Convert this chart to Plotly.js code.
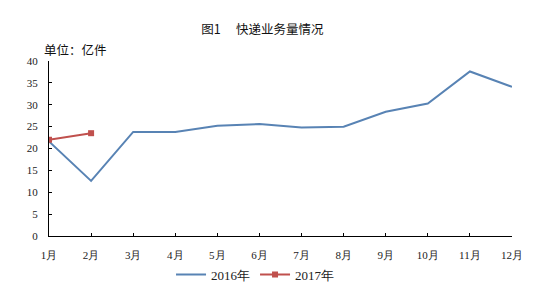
<!DOCTYPE html>
<html>
<head>
<meta charset="utf-8">
<script src="https://cdn.plot.ly/plotly-3.0.1.min.js"></script>
<style>html,body{margin:0;padding:0;background:#fff;}#chart{width:551px;height:299px;}</style>
</head>
<body>
<div id="chart"></div>
<script>
const months = ["1月","2月","3月","4月","5月","6月","7月","8月","9月","10月","11月","12月"];
const values2016 = [21.6, 12.6, 23.8, 23.8, 25.2, 25.6, 24.8, 25.0, 28.4, 30.3, 37.6, 34.1];
const months2017 = ["1月","2月"];
const values2017 = [22.0, 23.5];
const yTicks = [0,5,10,15,20,25,30,35,40];

const serif = "Liberation Serif, Times New Roman, serif";
const cjk = "Noto Sans CJK SC, sans-serif";

const data = [
  {x: months, y: values2016, type: "scatter", mode: "lines", name: "2016年",
   line: {color: "#5883b4", width: 2}},
  {x: months2017, y: values2017, type: "scatter", mode: "lines+markers", name: "2017年",
   line: {color: "#c0504d", width: 2}, marker: {symbol: "square", size: 6, color: "#c0504d"}}
];

const layout = {
  width: 551, height: 299,
  margin: {l: 49, r: 39, t: 61, b: 63, autoexpand: false},
  paper_bgcolor: "#fff", plot_bgcolor: "#fff",
  showlegend: true,
  legend: {orientation: "h", x: 0.445, xanchor: "center", y: -0.135, yanchor: "top",
    font: {family: serif, size: 13, color: "#222"}, itemwidth: 30, tracegroupgap: 0},
  title: {text: "图1　 快递业务量情况", font: {family: cjk, size: 12.5, color: "#111"},
    x: 254/551, xanchor: "center", xref: "paper", y: 0.9, yanchor: "middle", yref: "container"},
  xaxis: {type: "category", categoryorder: "array", categoryarray: months,
    range: [0, 11], autorange: false, showgrid: false, zeroline: false,
    showline: true, linecolor: "#000", linewidth: 1,
    ticks: "inside", ticklen: 3, tickcolor: "#000", ticklabelstandoff: 9,
    tickfont: {family: serif, size: 11, color: "#222"}, fixedrange: true},
  yaxis: {range: [0, 40], autorange: false, tickvals: yTicks, ticktext: yTicks.map(String),
    showgrid: false, zeroline: false, showline: true, linecolor: "#000", linewidth: 1,
    ticks: "inside", ticklen: 3, tickcolor: "#000", ticklabelstandoff: 8,
    tickfont: {family: serif, size: 11, color: "#222"}, fixedrange: true},
  annotations: [
    {text: "单位：亿件", xref: "paper", yref: "paper", x: -0.015, y: 1.0,
     xanchor: "left", yanchor: "bottom", showarrow: false,
     font: {family: cjk, size: 12.5, color: "#111"}}
  ]
};

Plotly.newPlot("chart", data, layout, {displayModeBar: false, staticPlot: true});
</script>
</body>
</html>
